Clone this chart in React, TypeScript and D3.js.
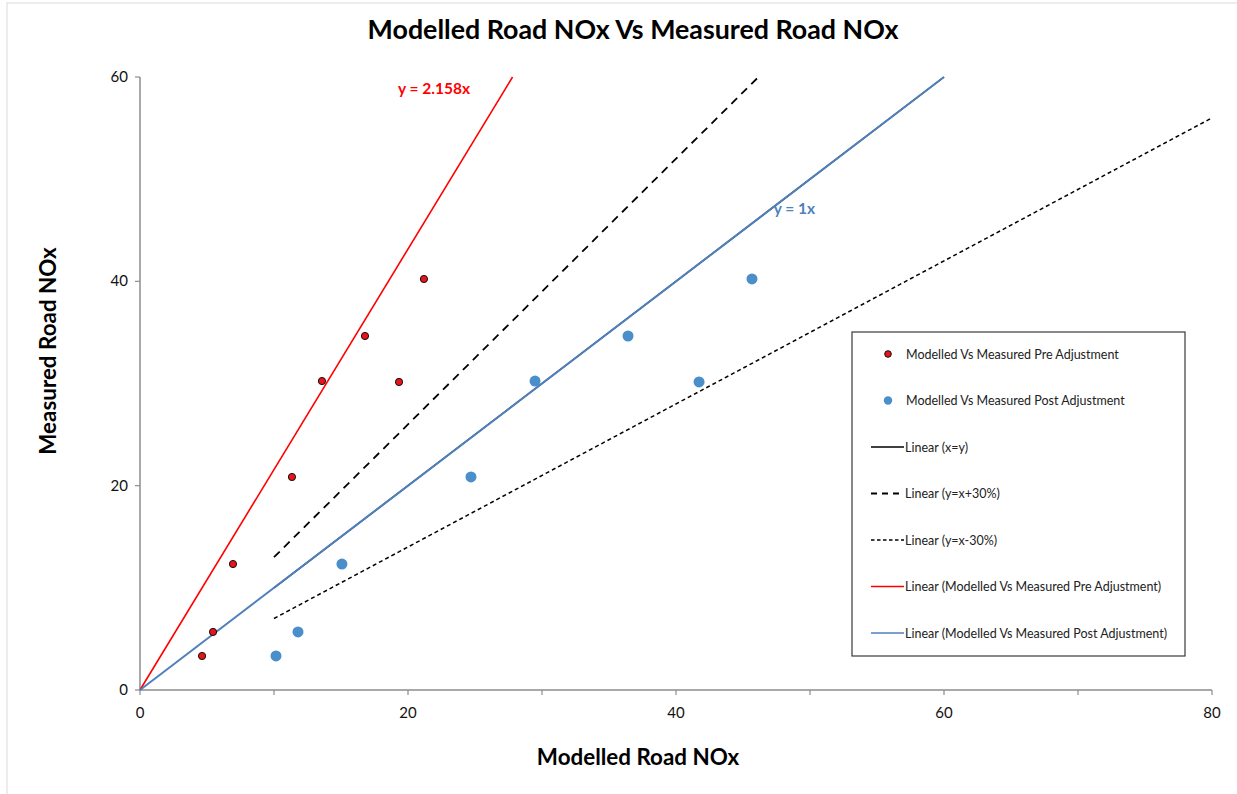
import React, { useEffect } from 'react';
import * as d3 from 'd3';

// values
const measured = [3.33, 5.68, 12.33, 20.85, 30.24, 34.65, 30.15, 40.23];
const modelledPre = [4.63, 5.45, 6.94, 11.34, 13.58, 16.79, 19.33, 21.19];
const modelledPost = [10.15, 11.79, 15.07, 24.7, 29.48, 36.42, 41.72, 45.67];

const xTicks = [0, 10, 20, 30, 40, 50, 60, 70, 80];
const xTickLabels = [0, 20, 40, 60, 80];
const yTicks = [0, 20, 40, 60];

const preSlope = 2.158;
const postSlope = 1;

// reference lines: slope, from x, to x
const refSlopes = [1, 1.3, 0.7];
const refFrom = [10, 10, 10];
const refTo = [60, 60 / 1.3, 80];

const legendLabels = [
  'Modelled Vs Measured Pre Adjustment',
  'Modelled Vs Measured Post Adjustment',
  'Linear (x=y)',
  'Linear (y=x+30%)',
  'Linear (y=x-30%)',
  'Linear (Modelled Vs Measured Pre Adjustment)',
  'Linear (Modelled Vs Measured Post Adjustment)',
];

const W = 1237;
const H = 794;
const FONT = 'Lato, "Open Sans", sans-serif';
const RED = '#ff0000';
const BLUE_LINE = '#4f81bd';
const BLUE_PT = '#4a8fc9';
const AXIS = '#8c8c8c';

const x = d3.scaleLinear().domain([0, 80]).range([140, 1212]);
const y = d3.scaleLinear().domain([0, 60]).range([690, 77]);

const seg = (slope: number, a: number, b: number) =>
  d3.line<number>().x(d => x(d)).y(d => y(slope * d))([a, b]) || '';

export default function App() {
  useEffect(() => {
    document.body.style.margin = '0';
  }, []);

  const refStyles = [
    { stroke: '#000', dash: undefined as string | undefined, w: 1.5 },
    { stroke: '#000', dash: '8,6', w: 1.8 },
    { stroke: '#000', dash: '4,3', w: 1.5 },
  ];

  const legendX = 852;
  const legendY = 332;
  const rowY = (i: number) => legendY + 22 + i * 46.5;

  return (
    <svg width={W} height={H} style={{ display: 'block', background: '#fff' }} fontFamily={FONT}>
      <rect x={7} y={3} width={W + 10} height={H + 10} fill="#fff" stroke="#d9d9d9" />

      <text x={633} y={39} textAnchor="middle" fontSize={26.8} fontWeight="bold" fill="#000">
        Modelled Road NOx Vs Measured Road NOx
      </text>

      {/* axes */}
      <line x1={x(0)} x2={x(80)} y1={y(0)} y2={y(0)} stroke={AXIS} strokeWidth={1.5} />
      <line x1={x(0)} x2={x(0)} y1={y(0)} y2={y(60)} stroke={AXIS} strokeWidth={1.5} />
      {xTicks.map(t => (
        <line key={'xt' + t} x1={x(t)} x2={x(t)} y1={y(0)} y2={y(0) + 5} stroke={AXIS} strokeWidth={1.2} />
      ))}
      {yTicks.map(t => (
        <line key={'yt' + t} x1={x(0) - 5} x2={x(0)} y1={y(t)} y2={y(t)} stroke={AXIS} strokeWidth={1.2} />
      ))}
      {xTickLabels.map(t => (
        <text key={'xl' + t} x={x(t)} y={y(0) + 28} textAnchor="middle" fontSize={15} fill="#111">
          {t}
        </text>
      ))}
      {yTicks.map(t => (
        <text key={'yl' + t} x={x(0) - 12} y={y(t) + 5} textAnchor="end" fontSize={15} fill="#111">
          {t}
        </text>
      ))}

      <text x={638} y={765} textAnchor="middle" fontSize={22.4} fontWeight="bold" fill="#000">
        Modelled Road NOx
      </text>
      <text
        transform="translate(56,351) rotate(-90)"
        textAnchor="middle"
        fontSize={22.4}
        fontWeight="bold"
        fill="#000"
      >
        Measured Road NOx
      </text>

      {/* reference lines */}
      {refSlopes.map((s, i) => (
        <path
          key={'ref' + i}
          d={seg(s, refFrom[i], refTo[i])}
          fill="none"
          stroke={refStyles[i].stroke}
          strokeWidth={refStyles[i].w}
          strokeDasharray={refStyles[i].dash}
        />
      ))}

      {/* trend lines */}
      <path d={seg(preSlope, 0, 60 / preSlope)} fill="none" stroke={RED} strokeWidth={1.6} />
      <path d={seg(postSlope, 0, 60 / postSlope)} fill="none" stroke={BLUE_LINE} strokeWidth={2} />

      {/* points */}
      {modelledPost.map((v, i) => (
        <circle key={'post' + i} cx={x(v)} cy={y(measured[i])} r={5.5} fill={BLUE_PT} />
      ))}
      {modelledPre.map((v, i) => (
        <circle key={'pre' + i} cx={x(v)} cy={y(measured[i])} r={3.6} fill="#e8141a" stroke="#111" strokeWidth={1} />
      ))}

      <text x={x(19.25)} y={y(58.3)} fontSize={15.5} fontWeight="bold" fill={RED}>
        y = 2.158x
      </text>
      <text x={x(47.3)} y={y(46.6)} fontSize={15.5} fontWeight="bold" fill={BLUE_LINE}>
        y = 1x
      </text>

      {/* legend */}
      <rect x={legendX} y={legendY} width={333} height={324} fill="#fff" stroke="#3a3a3a" strokeWidth={1.2} />
      {legendLabels.map((lab, i) => {
        const cy = rowY(i);
        let sym: React.ReactNode;
        if (i === 0) sym = <circle cx={legendX + 36} cy={cy} r={3.3} fill="#e8141a" stroke="#111" strokeWidth={1} />;
        else if (i === 1) sym = <circle cx={legendX + 36} cy={cy} r={4.2} fill={BLUE_PT} />;
        else {
          const st =
            i === 2 ? { s: '#000', d: undefined, w: 1.6 }
            : i === 3 ? { s: '#000', d: '6,5', w: 1.8 }
            : i === 4 ? { s: '#000', d: '3.5,2.5', w: 1.6 }
            : i === 5 ? { s: RED, d: undefined, w: 1.6 }
            : { s: BLUE_LINE, d: undefined, w: 1.6 };
          sym = (
            <line x1={legendX + 19} x2={legendX + 52} y1={cy} y2={cy} stroke={st.s} strokeWidth={st.w} strokeDasharray={st.d} />
          );
        }
        return (
          <g key={'lg' + i}>
            {sym}
            <text x={legendX + (i < 2 ? 54 : 53)} y={cy + 4.5} fontSize={12.5} fill="#222">
              {lab}
            </text>
          </g>
        );
      })}
    </svg>
  );
}
